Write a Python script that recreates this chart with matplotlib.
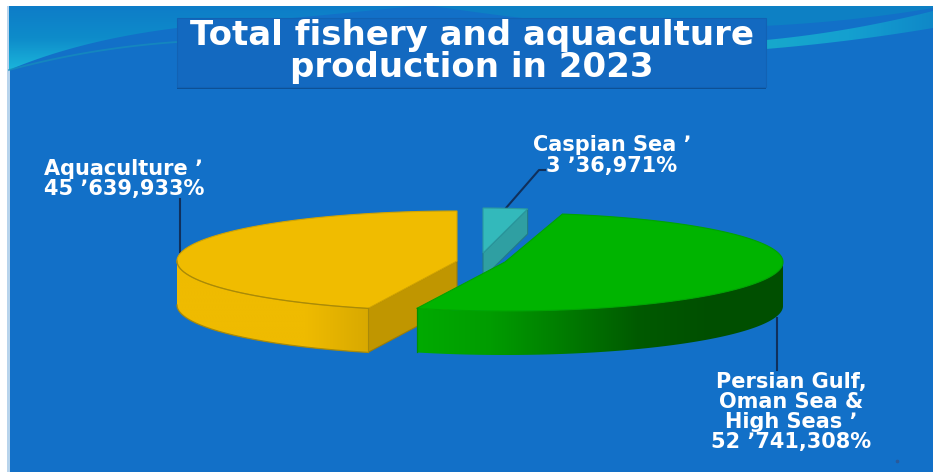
import numpy as np
import matplotlib
matplotlib.use("Agg")
import matplotlib.pyplot as plt
from matplotlib.colors import LinearSegmentedColormap
from matplotlib.patches import Polygon, Rectangle

plt.rcParams['font.family'] = ['DejaVu Sans']

title_lines = ["Total fishery and aquaculture", "production in 2023"]
slice_names = ["Aquaculture", "Persian Gulf", "Caspian Sea"]
slice_shares = [45.639933, 52.741308, 3.36971]

label_aqua = ["Aquaculture \u066c", "45 \u066c639,933%"]
label_caspian = ["Caspian Sea \u066c", "3 \u066c36,971%"]
label_gulf = ["Persian Gulf,", "Oman Sea &", "High Seas \u066c", "52 \u066c741,308%"]

W, H = 933, 472
BLUE = "#1270c8"

fig = plt.figure(figsize=(W / 100, H / 100), dpi=100, facecolor="white")
ax = fig.add_axes([0, 0, 1, 1])
ax.set_xlim(0, W)
ax.set_ylim(H, 0)
ax.axis("off")


def gradient_patch(points, colors, extent, vertical=False, zorder=1):
    # fill a polygon with a linear gradient, imshow clipped to the shape
    cmap = LinearSegmentedColormap.from_list("g", colors)
    grad = np.linspace(0, 1, 256).reshape(-1, 1) if vertical else np.linspace(0, 1, 256).reshape(1, -1)
    im = ax.imshow(grad, cmap=cmap, extent=extent, aspect="auto", zorder=zorder,
                   interpolation="bilinear", origin="upper")
    im.set_clip_path(Polygon(points, closed=True, transform=ax.transData))
    ax.set_xlim(0, W)
    ax.set_ylim(H, 0)


def curve(p0, c, p1, n=40):
    t = np.linspace(0, 1, n)[:, None]
    p0, c, p1 = np.array(p0), np.array(c), np.array(p1)
    return (1 - t) ** 2 * p0 + 2 * t * (1 - t) * c + t ** 2 * p1


# slide background
ax.add_patch(Rectangle((9, 5.5), W - 9, H - 5.5, fc=BLUE, ec="none", zorder=0))
ax.add_patch(Rectangle((7, 5.5), 2.5, H, fc="#b8d4ec", ec="none", zorder=0))

# swooshes at the top of the slide
left_edge = np.vstack([curve((9, 70), (80, 40), (177, 28)), curve((177, 28), (300, 18), (420, 5.5))])
gradient_patch(np.vstack([[[9, 5.5]], left_edge]), ["#0d7cc8", "#0e8cca", "#1cb8dc"],
               (9, 420, 72, 5.5), vertical=True)
ax.plot(*curve((9, 70), (90, 48), (177, 42)).T, color="#1590bc", lw=1.3, alpha=0.7, zorder=1)

right_edge = np.vstack([curve((430, 5.5), (510, 18), (600, 26)), curve((600, 26), (780, 34), (933, 8))])
ax.fill(*np.vstack([right_edge, [[933, 5.5]]]).T, color="#0d80c4", ec="none", zorder=1)
band = np.vstack([curve((766, 40), (850, 32), (933, 11)), curve((933, 28), (850, 42), (766, 49))])
gradient_patch(band, ["#17a8cc", "#14a0d0", "#0f88c8"], (766, 933, 60, 5), zorder=1)

# clean white strip along the top of the slide
ax.add_patch(Rectangle((0, 0), W, 5.5, fc="white", ec="none", zorder=1.5))

# title box
ax.add_patch(Rectangle((177, 84), 589, 5, fc="#0d4f94", ec="none", zorder=2))
ax.add_patch(Rectangle((177, 18), 589, 69, fc="#1369c0", ec="#1262b4", lw=0.8, zorder=3))
for line, y in zip(title_lines, [36, 68]):
    ax.text(472, y, line, color="white", fontsize=24.5, fontweight="bold",
            ha="center", va="center", zorder=4)


def ellipse_pts(cx, cy, rx, ry, a0, a1, n=200):
    a = np.radians(np.linspace(a0, a1, n))
    return np.column_stack([cx + rx * np.cos(a), cy - ry * np.sin(a)])


def side_wall(cx, cy, rx, ry, depth, a0, a1, stops, zo):
    # outer wall of a slice, shaded left to right
    arc = ellipse_pts(cx, cy, rx, ry, a0, a1)
    wall = np.vstack([arc, (arc + [0, depth])[::-1]])
    gradient_patch(wall, stops, (arc[:, 0].min(), arc[:, 0].max(), cy + ry + depth, cy - ry), zorder=zo)
    return arc


# slice angles, counter-clockwise from twelve o'clock
total = sum(slice_shares)
a_aqua = 90 + slice_shares[0] / total * 360
a_gulf = a_aqua + slice_shares[1] / total * 360
a_casp = a_gulf + slice_shares[2] / total * 360

# Caspian Sea, furthest back
zo = 5
cx, cy, rx, ry, depth = 483, 253, 216, 45, 25
top = ellipse_pts(cx, cy, rx, ry, a_gulf, a_casp, 20)
cut = [top[0], [cx, cy], [cx, cy + depth], top[0] + [0, depth]]
ax.add_patch(Polygon(cut, closed=True, fc="#2f9fa2", ec="#237c86", lw=0.8, zorder=zo))
ax.add_patch(Polygon(np.vstack([[[cx, cy]], top]), closed=True, fc="#33b9bb", ec="#2a9a9f", lw=0.8, zorder=zo + 0.1))

# Aquaculture
zo = 6
cx, cy, rx, ry, depth = 457, 261, 280, 50, 44
apex = ellipse_pts(cx, cy, rx, ry, a_aqua, a_aqua, 1)[0]
cut = [apex, [cx, cy], [cx, cy + depth], apex + [0, depth]]
ax.add_patch(Polygon(cut, closed=True, fc="#c09600", ec="#9c7c08", lw=0.8, zorder=zo))
arc = side_wall(cx, cy, rx, ry, depth, 180, a_aqua, ["#efbb00", "#efbb00", "#efbb00", "#d8a900"], zo)
ax.plot(*(arc + [0, depth]).T, color="#a98a08", lw=0.9, zorder=zo + 0.2)
top = ellipse_pts(cx, cy, rx, ry, 90, a_aqua)
ax.add_patch(Polygon(np.vstack([[[cx, cy]], top]), closed=True, fc="#f0bc00", ec="#d2a400", lw=0.8, zorder=zo + 0.1))
ax.plot(*arc.T, color="#a98a08", lw=0.9, zorder=zo + 0.3)
ax.plot([arc[-1, 0]] * 2, [arc[-1, 1], arc[-1, 1] + depth], color="#a98a08", lw=0.8, zorder=zo + 0.3)

# Persian Gulf, Oman Sea & High Seas
zo = 7
cx, cy, rx, ry, depth = 505, 262, 278, 49, 44
arc = side_wall(cx, cy, rx, ry, depth, a_aqua, 360,
                ["#00aa00", "#009c00", "#007c00", "#005a00", "#004f00", "#005000"], zo)
top = ellipse_pts(cx, cy, rx, ry, a_aqua, a_gulf)
ax.add_patch(Polygon(np.vstack([[[cx, cy]], top]), closed=True, fc="#00b400", ec="#00a400", lw=0.8, zorder=zo + 0.1))
ax.plot([arc[0, 0]] * 2, [arc[0, 1], arc[0, 1] + depth], color="#009000", lw=0.9, zorder=zo + 0.2)

# leader lines
LEADER = "#10305c"
ax.plot([506, 539, 545], [208, 170, 170], color=LEADER, lw=1.5, zorder=4)
ax.plot([180, 180], [199, 252], color=LEADER, lw=1.5, zorder=4)
ax.plot([777, 777], [318, 370], color=LEADER, lw=1.5, zorder=4)

# data labels
for line, y in zip(label_aqua, [169, 189]):
    ax.text(124, y, line, color="white", fontsize=15, fontweight="bold", ha="center", va="center", zorder=9)
for line, y in zip(label_caspian, [145, 166]):
    ax.text(612, y, line, color="white", fontsize=15, fontweight="bold", ha="center", va="center", zorder=9)
for line, y in zip(label_gulf, [382, 402, 422, 442]):
    ax.text(791, y, line, color="white", fontsize=15, fontweight="bold", ha="center", va="center", zorder=9)

ax.plot([897], [461], marker="o", ms=1.6, color="#2a5a9a", zorder=9)

fig.savefig("out.png", dpi=100, facecolor="white")
